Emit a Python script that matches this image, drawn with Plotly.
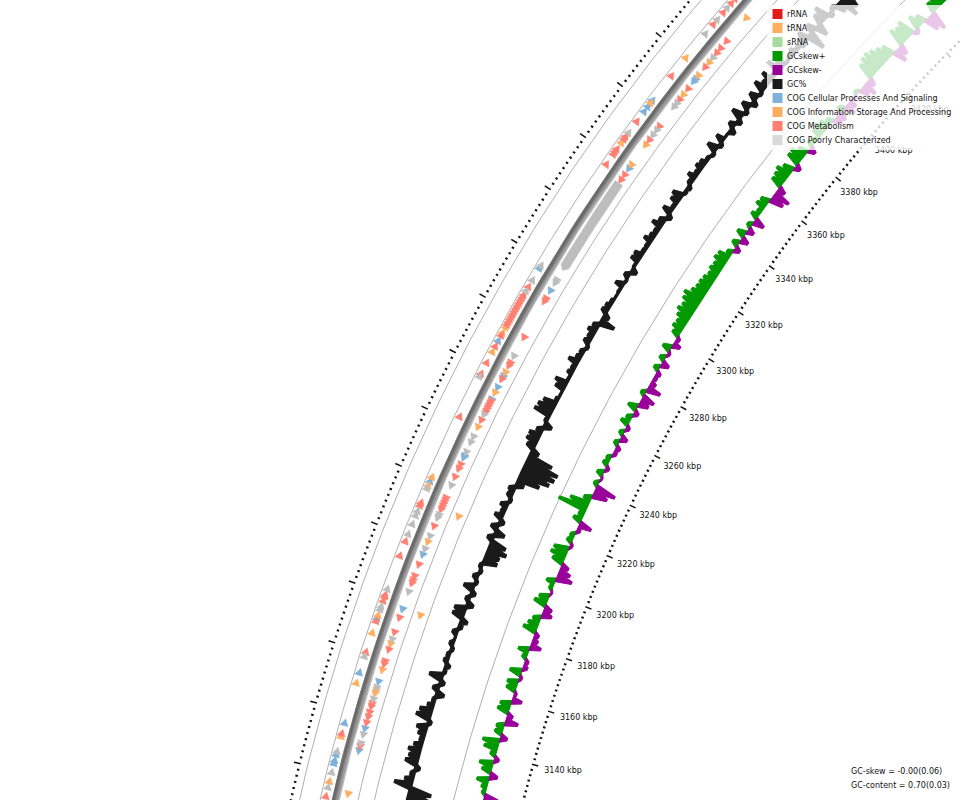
import math
import plotly.graph_objects as go

# ---------- data ----------
legend_labels = ["rRNA", "tRNA", "sRNA", "GCskew+", "GCskew-", "GC%",
                 "COG Cellular Processes And Signaling",
                 "COG Information Storage And Processing",
                 "COG Metabolism", "COG Poorly Characterized"]
tick_labels_kbp = [3140, 3160, 3180, 3200, 3220, 3240, 3260, 3280, 3300, 3320,
                   3340, 3360, 3380, 3400, 3420]
stat_lines = ["GC-skew = -0.00(0.06)", "GC-content = 0.70(0.03)"]

gc_start = 3116
gc_dev = [-14, -20, -22, 17, 8, 4, -5, 12, 10, 12, 8, 4, 7, 10, -4, 14, 12, 6, 3, -8,
          6, -5, 13, -3, -5, 4, 3, -3, 4, -1, 5, -4, -7, 11, 11, -7, 4, -5, 10, -3,
          5, -3, 3, -14, -14, -19, -16, 6, -10, 7, -5, 8, 4, 7, -3, 5, 6, -8, -22, -30,
          -33, -34, -25, -8, 8, 11, 11, 6, -8, 3, 17, 16, 13, 3, 1, 9, 12, 2, 5, 4,
          10, 5, 4, -3, 6, 5, 8, 6, -15, -6, 6, 5, 3, 1, 2, 8, -2, 5, -6, 2,
          8, 8, 3, 3, 8, 5, 4, 10, 6, -5, 9, 3, 8, 10, -3, -4, 4, 8, 4, 7,
          6, 3, -3, 10, -4, 8, 1, -6, 6, -5, 11, -4, 8, -6, 8, -3, 11, 6, 11, 4,
          14, 8, -2, 3, 6, 3, -4, 10, -18, 9, -12, 10, 14, -5, 4, -10, -20, -15, 2]

skew_start = 3124
skew_val = [-14, 4, 6, 12, -8, 10, 14, -5, 6, 14, 17, -7, 8, 8, -13, -6, 12, 11, -10, -3,
            10, 11, -3, 12, -5, -4, 5, 11, -11, -6, -5, 14, 11, 8, -10, -8, 13, 10, -2, 4,
            9, -16, -12, -8, 12, 16, 15, -3, 6, 5, -4, -13, 9, 6, 30, 20, 8, -15, -21, 5,
            -2, 7, -4, 6, 5, -4, -5, 5, -7, 5, -4, 9, 6, -5, 10, -10, -13, 5, -14, -6,
            -4, -5, 6, -8, 6, -3, 9, -8, -4, 8, 11, 10, 13, 16, 14, 17, 19, 14, 12, 12,
            11, 9, 11, 10, 13, 12, 6, -6, 7, -8, 9, -7, 5, -11, 8, 5, 10, 9, -14, -17,
            -8, 12, 13, 15, 11, -6, 14, 15, 10, -7, 7, 4, 10, 12, 10, 7, -8, -9, 6, -11,
            -8, -3, 4, -10, -14, -8, 17, 20, 21, 19, 16, 13, -14, -10, 18, 16, 18, -5, 14, 10,
            -15, -19, 11, 18, 20, 22, 22]

# gene position (kbp), COG class: C cellular, I information, M metabolism, P poor
outer_pos = [3112, 3115, 3117, 3120, 3123, 3124, 3126, 3127, 3132, 3133, 3136.5, 3150, 3153.5,
             3159, 3160.5, 3167, 3171, 3172, 3173, 3175, 3176, 3178, 3179.5, 3180, 3182, 3193.5,
             3198.5, 3201, 3204.5, 3207.5, 3209, 3211, 3212, 3217, 3218, 3219.5, 3221, 3242.5,
             3257, 3258, 3262, 3266, 3268, 3270, 3272, 3273, 3275, 3276, 3277, 3278, 3279, 3280,
             3281, 3282, 3283, 3284, 3285, 3286, 3287, 3288.5, 3290, 3292.5, 3297, 3298, 3337,
             3341, 3342, 3343, 3345.5, 3347, 3348, 3349.5, 3354, 3358, 3360, 3361.5, 3362.5,
             3372.5, 3380, 3390, 3394, 3396, 3399, 3401, 3403, 3405]
outer_cog = list("MPIPCCCPIMC" "ICPMIMCIPPMMMP" "MMPPPPMMPICI" "MPMMIMCMII" "MMMMMMMMMMMM"
                 "PMPCP" "MMMMIMMPM" "CCIC" "MIPMPMPMM")
inner_pos = [3114, 3128.5, 3130, 3131, 3134, 3136, 3138, 3140, 3141.5, 3143.5, 3144.5, 3146, 3148,
             3149, 3150, 3152, 3156, 3158, 3159, 3163, 3165, 3166.5, 3169, 3174, 3177, 3183, 3186,
             3187, 3188.5, 3192.5, 3196, 3198, 3200.5, 3202.5, 3206, 3209, 3210, 3212, 3213, 3214,
             3215, 3216, 3220.5, 3223.5, 3226.5, 3228, 3230.5, 3231, 3232.5, 3236, 3238, 3241.5,
             3244, 3246, 3247, 3248, 3249, 3250, 3251, 3251.5, 3254, 3256, 3259, 3260, 3261.5, 3264,
             3265, 3267.5, 3274.5, 3288, 3289, 3292, 3295, 3296, 3335, 3337, 3339.5, 3341, 3349,
             3351, 3353, 3355, 3356.5, 3364.5, 3366, 3367.5, 3369.5, 3372, 3375, 3376, 3377.5, 3381,
             3383, 3385, 3387, 3389, 3392, 3402]
inner_cog = list("ICMPPCMMMMMPIIPCIMMMIPMMCP" "MMMMCPIPMPP" "MMMMM" "PMMMCCPPPIMP" "MMMMM"
                 "CICMCIMMP" "MMMCPP" "MMCIIMPPM" "PPMIMCCIMIPMMMI")
third_pos = [3177, 3212]
third_cog = ["I", "I"]
long_gene_start = [3300]
long_gene_end = [3334]
long_gene_cog = ["P"]

# ---------- map geometry ----------
CX, CY = 2132.0, 1219.4
DEG_AT_3380, DEG_PER_KBP = 38.8, 0.0955


def xy(p, r):
    t = math.radians(DEG_AT_3380 + DEG_PER_KBP * (p - 3380))
    return CX - r * math.cos(t), CY - r * math.sin(t)


def ring(r, p0=3100, p1=3470, n=120):
    pts = [xy(p0 + (p1 - p0) * i / n, r) for i in range(n + 1)]
    return [a for a, _ in pts], [b for _, b in pts]


fig = go.Figure()


def line(xs, ys, color, width):
    fig.add_trace(go.Scatter(x=xs, y=ys, mode="lines", line=dict(color=color, width=width),
                             hoverinfo="skip", showlegend=False))


def poly(xs, ys, color, width=0.6):
    fig.add_trace(go.Scatter(x=xs, y=ys, mode="lines", fill="toself", fillcolor=color,
                             line=dict(color=color, width=width), hoverinfo="skip", showlegend=False))


# thin rings
for r in (1880, 1860, 1823, 1807, 1730):
    line(*ring(r), "#a6a6a6", 0.9)

# backbone with shaded profile, darker on its outer side
for r, w, c in ((1845, 8, "#bdbdbd"), (1845.5, 6.4, "#9a9a9a"), (1846.5, 4.2, "#7e7e7e"), (1847, 2.2, "#696969")):
    line(*ring(r), c, w)

# genes
COG_COLOR = {"C": "#7fb1d9", "I": "#fdae61", "M": "#ff7f72", "P": "#bdbdbd"}
HALF_LEN, HALF_W = 1.1, 4.0


def add_genes(pos, cog, r, direction):
    for c, col in COG_COLOR.items():
        xs, ys = [], []
        for p, k in zip(pos, cog):
            if k != c:
                continue
            a = xy(p - direction * HALF_LEN, r + HALF_W)
            b = xy(p - direction * HALF_LEN, r - HALF_W)
            d = xy(p + direction * HALF_LEN, r)
            xs += [a[0], b[0], d[0], a[0], None]
            ys += [a[1], b[1], d[1], a[1], None]
        if xs:
            poly(xs, ys, col)


add_genes(outer_pos, outer_cog, 1855, 1)
add_genes(inner_pos, inner_cog, 1834, -1)
add_genes(third_pos, third_cog, 1815, -1)

for s, e, k in zip(long_gene_start, long_gene_end, long_gene_cog):
    inner = [xy(s + 1.5 + (e - s - 1.5) * i / 8, 1829.5) for i in range(9)]
    outer = [xy(s + 1.5 + (e - s - 1.5) * i / 8, 1838.5) for i in range(9)]
    pts = [xy(s, 1834)] + outer + inner[::-1]
    poly([a for a, _ in pts] + [pts[0][0]], [b for _, b in pts] + [pts[0][1]], COG_COLOR[k])


def signed_polys(start, vals, base, sign):
    """jagged polygons of the runs where vals has the given sign"""
    xs, ys = [], []
    run = []
    for i, v in enumerate(vals + [0]):
        if v * sign > 0:
            run.append((start + 2 * i, v))
        elif run:
            left, right = run[0][0] - 1.7, run[-1][0] + 1.7
            pts = [xy(left, base)]
            for j, (p, u) in enumerate(run):
                pts.append(xy(p - 0.5, base + u))
                pts.append(xy(p + 0.5, base + u))
                if j + 1 < len(run):
                    w = run[j + 1][1]
                    notch = min(abs(u), abs(w)) * 0.7 * sign
                    pts.append(xy(p + 1, base + notch))
            pts.append(xy(right, base))
            xs += [a for a, _ in pts] + [pts[0][0], None]
            ys += [b for _, b in pts] + [pts[0][1], None]
            run = []
    return xs, ys


# GC content
poly(*signed_polys(gc_start, gc_dev, 1775, 1), "#1a1a1a", 1.2)
poly(*signed_polys(gc_start, gc_dev, 1775, -1), "#1a1a1a", 1.2)
gc_p = [gc_start + 2 * i for i in range(len(gc_dev))]
gc_base = [xy(p, 1775) for p in gc_p]
line([a for a, _ in gc_base], [b for _, b in gc_base], "#1a1a1a", 3.2)

# GC skew
poly(*signed_polys(skew_start, skew_val, 1701, 1), "#009900", 1)
poly(*signed_polys(skew_start, skew_val, 1701, -1), "#990099", 1)

# tick rings
minor = [3100 + 2 * i for i in range(190) if (3100 + 2 * i) % 20 != 0]
major = [3100 + 20 * i for i in range(19)]


def ticks(positions, r0, r1, width):
    xs, ys = [], []
    for p in positions:
        a, b = xy(p, r0), xy(p, r1)
        xs += [a[0], b[0], None]
        ys += [a[1], b[1], None]
    line(xs, ys, "#111111", width)


ticks(minor, 1887, 1889.5, 2)
ticks(major, 1887, 1894, 1.5)
ticks(minor, 1661, 1663.5, 2)
ticks(major, 1657, 1663.5, 1.5)

lab = [xy(p - 1 - 0.01 * (p - 3140), 1650) for p in tick_labels_kbp]
FONT = "DejaVu Sans"
fig.add_trace(go.Scatter(x=[a for a, _ in lab], y=[b for _, b in lab], mode="text",
                         text=[f"{p} kbp" for p in tick_labels_kbp], textposition="middle right",
                         textfont=dict(family=FONT, size=8, color="#111111"),
                         hoverinfo="skip", showlegend=False))

# translucent legend panel
fig.add_trace(go.Scatter(x=[767, 960, 960, 767, 767], y=[5, 5, 150, 150, 5], mode="lines",
                         fill="toself", fillcolor="rgba(255,255,255,0.78)", line=dict(width=0),
                         hoverinfo="skip", showlegend=False))

# legend
legend_colors = ["#e31a1c", "#fdae61", "#a6dba0", "#009900", "#990099", "#1a1a1a",
                 "#7fb1d9", "#fdae61", "#ff7f72", "#d9d9d9"]
legend_y = [14 + 14 * i for i in range(len(legend_labels))]
fig.add_trace(go.Scatter(x=[777.5] * len(legend_labels), y=legend_y, mode="markers",
                         marker=dict(symbol="square", size=10, color=legend_colors, line=dict(width=0)),
                         hoverinfo="skip", showlegend=False))
fig.add_trace(go.Scatter(x=[787] * len(legend_labels), y=[v + 0.7 for v in legend_y], mode="text", text=legend_labels,
                         textposition="middle right", textfont=dict(family=FONT, size=8, color="#111111"),
                         hoverinfo="skip", showlegend=False))
fig.add_trace(go.Scatter(x=[851, 851], y=[771.5, 785.5], mode="text", text=stat_lines,
                         textposition="middle right", textfont=dict(family=FONT, size=8, color="#111111"),
                         hoverinfo="skip", showlegend=False))

fig.update_layout(width=960, height=800, margin=dict(l=0, r=0, t=0, b=0), autosize=False,
                  paper_bgcolor="white", plot_bgcolor="white", showlegend=False,
                  xaxis=dict(range=[0, 960], visible=False, fixedrange=True),
                  yaxis=dict(range=[800, 0], visible=False, fixedrange=True))
fig.write_html("out.html", config={"displayModeBar": False},
               post_script="document.body.style.margin='0';document.documentElement.style.overflow='hidden';")
